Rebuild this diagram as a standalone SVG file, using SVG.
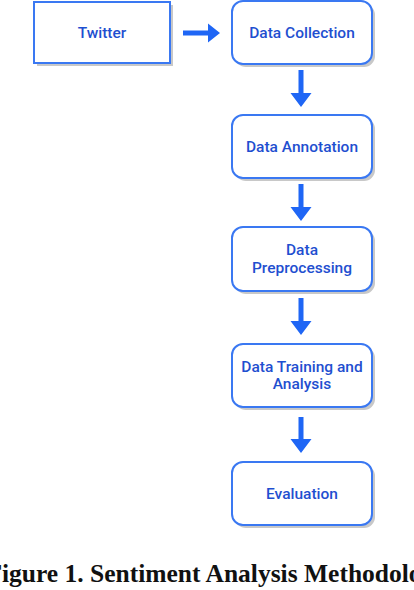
<svg xmlns="http://www.w3.org/2000/svg" width="414" height="590" viewBox="0 0 414 590">
<defs>
<style>
.box{fill:#fff;stroke:#3a78f2;stroke-width:2}
.sh{fill:#c8c8c8}
.lbl{font-family:Roboto,"Liberation Sans",sans-serif;font-size:15.5px;font-weight:500;fill:#1f4fd0;text-anchor:middle}
.arr{fill:#1f66f5}
.cap{font-family:"Liberation Serif",serif;font-weight:bold;font-size:25.5px;fill:#111}
</style>
</defs>
<rect width="414" height="590" fill="#fff"/>
<g id="connectors">
<path class="arr" d="M183 30.5h25v-7l12 9.5-12 9.5v-7h-25z"/>
<path class="arr" d="M298.5 70h5v23h8l-10.5 14-10.5-14h8z"/>
<path class="arr" d="M298.5 184h5v23h8l-10.5 14-10.5-14h8z"/>
<path class="arr" d="M298.5 298h5v23h8l-10.5 14-10.5-14h8z"/>
<path class="arr" d="M298.5 417h5v22h8l-10.5 14-10.5-14h8z"/>
</g>
<g id="twitter">
<rect class="sh" x="37" y="5" width="136" height="61"/>
<rect class="box" x="34" y="2" width="136" height="61"/>
<text class="lbl" x="102" y="38">Twitter</text>
</g>
<g id="collection">
<rect class="sh" x="235" y="4" width="140" height="63" rx="11"/>
<rect class="box" x="232" y="1" width="140" height="63" rx="11"/>
<text class="lbl" x="302" y="38">Data Collection</text>
</g>
<g id="annotation">
<rect class="sh" x="235" y="118" width="140" height="63" rx="11"/>
<rect class="box" x="232" y="115" width="140" height="63" rx="11"/>
<text class="lbl" x="302" y="152">Data Annotation</text>
</g>
<g id="preprocessing">
<rect class="sh" x="235" y="230" width="140" height="64" rx="11"/>
<rect class="box" x="232" y="227" width="140" height="64" rx="11"/>
<text class="lbl" x="302" y="255">Data</text>
<text class="lbl" x="302" y="273">Preprocessing</text>
</g>
<g id="training">
<rect class="sh" x="235" y="347" width="140" height="63" rx="11"/>
<rect class="box" x="232" y="344" width="140" height="63" rx="11"/>
<text class="lbl" x="302" y="372">Data Training and</text>
<text class="lbl" x="302" y="389">Analysis</text>
</g>
<g id="evaluation">
<rect class="sh" x="235" y="465" width="140" height="63" rx="11"/>
<rect class="box" x="232" y="462" width="140" height="63" rx="11"/>
<text class="lbl" x="302" y="499">Evaluation</text>
</g>
<text class="cap" x="-13.6" y="582">Figure 1. Sentiment Analysis Methodology</text>
</svg>
